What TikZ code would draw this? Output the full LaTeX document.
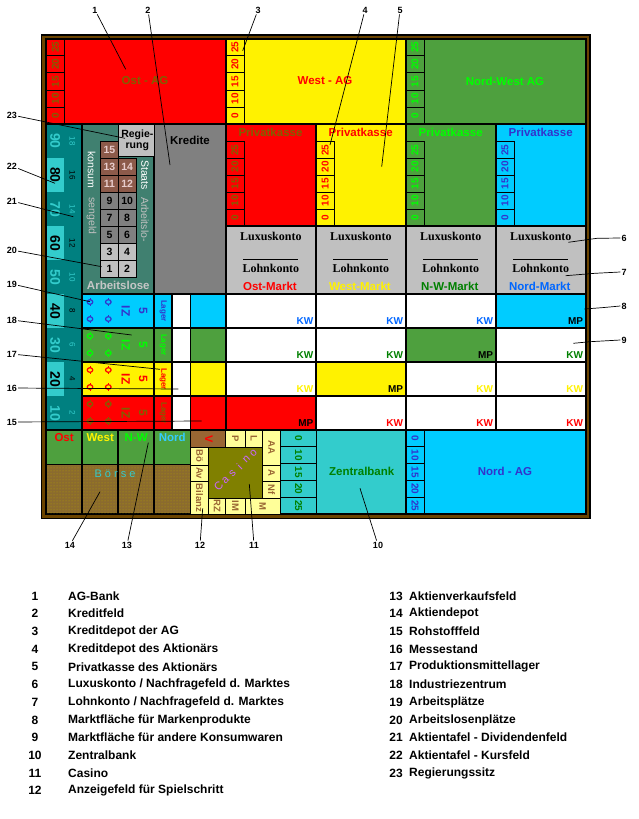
\documentclass[tikz,border=0pt]{standalone}
\usepackage{fontspec}
\setmainfont{Liberation Sans}
\newfontfamily\lserif{Liberation Serif}
\usetikzlibrary{patterns}
\definecolor{brd}{HTML}{6B4400}
\definecolor{grn}{HTML}{4EA03E}
\definecolor{lime}{HTML}{00FF00}
\definecolor{nord}{HTML}{00CCFF}
\definecolor{nordt}{HTML}{3333CC}
\definecolor{tealA}{HTML}{33CCCC}
\definecolor{tealB}{HTML}{008080}
\definecolor{staat}{HTML}{408070}
\definecolor{olv}{HTML}{806000}
\definecolor{dgrn}{HTML}{008000}
\definecolor{kwb}{HTML}{0066FF}
\definecolor{lgray}{HTML}{C0C0C0}
\definecolor{mgray}{HTML}{808080}
\definecolor{brn}{HTML}{8C5A4A}
\definecolor{pinkt}{HTML}{E8CCCC}
\definecolor{vbrown}{HTML}{996633}
\definecolor{lyel}{HTML}{FFFF99}
\definecolor{casino}{HTML}{808000}
\definecolor{cast}{HTML}{CC66FF}
\definecolor{boerse}{HTML}{8B6B2E}
\definecolor{bnord}{HTML}{33CCFF}
\tikzset{
  cellk/.style={draw=black,line width=1.6pt},
  thinl/.style={draw=black,line width=0.9pt},
  hd/.style={font=\bfseries\fontsize{11.5}{12}\selectfont,inner sep=0pt},
  numt/.style={font=\bfseries\fontsize{10}{10}\selectfont,inner sep=0pt},
  kwt/.style={font=\bfseries\fontsize{10}{10}\selectfont,inner sep=0pt},
  lux/.style={font=\lserif\bfseries\fontsize{12}{12}\selectfont,inner sep=0pt},
  anz/.style={font=\bfseries\fontsize{9.5}{10}\selectfont,inner sep=0pt,rotate=-90,text=vbrown},
  casl/.style={font=\fontsize{11}{11}\selectfont,inner sep=0pt,rotate=44,text=cast},
  callout/.style={font=\bfseries\fontsize{9}{9}\selectfont,inner sep=1pt},
  leader/.style={draw=black,line width=0.7pt},
  legn/.style={font=\bfseries\fontsize{12}{12}\selectfont,inner sep=0pt},
  legt/.style={font=\bfseries\fontsize{12}{12}\selectfont,inner sep=0pt,anchor=west},
}
% number column, labels 25..0 top to bottom, reading upwards
\newcommand\numup[6]{%
  \foreach \t [count=\i from 0] in {25,20,15,10,0}{
    \draw[thinl] (#1,{#3+#4*\i}) rectangle (#2,{#3+#4*(\i+1)});
    \node[numt,rotate=90,text=#5] (#6\i) at ({(#1+#2)/2},{#3+#4*(\i+0.5)}) {\t};
  }}
% number column, labels 0..25 top to bottom, reading downwards
\newcommand\numdown[6]{%
  \foreach \t [count=\i from 0] in {0,10,15,20,25}{
    \draw[thinl] (#1,{#3+#4*\i}) rectangle (#2,{#3+#4*(\i+1)});
    \node[numt,rotate=-90,text=#5] (#6\i) at ({(#1+#2)/2},{#3+#4*(\i+0.5)}) {\t};
  }}
\newcommand\mkt[7]{%
  \filldraw[cellk,fill=#5] (#2,#4) rectangle (#3,{#4+34});
  \node[kwt,text=#7,anchor=south east] (#1) at ({#3-2.5},{#4+31}) {#6};}
\newcommand\wsym[3]{%
  \draw[#3,line width=1.2pt] (#1,#2) ellipse (2.8 and 2.3);
  \draw[#3,line width=1pt] (#1,{#2-2.3}) -- (#1,{#2-3.9}) (#1,{#2+2.3}) -- (#1,{#2+3.9});}
\begin{document}
\begin{tikzpicture}[x=1pt,y=-1pt]
\useasboundingbox (0,0) rectangle (639,819);
\fill[white] (0,0) rectangle (639,819);
% frame
\fill[black] (41,34) rectangle (590.7,519.3);
\fill[brd] (42.3,35.7) rectangle (589,517.7);
\fill[black] (45.2,38.1) rectangle (586.6,515);
% ---- top row: AGs
\filldraw[cellk,fill=red] (46,38.9) rectangle (225.8,124);
\filldraw[cellk,fill=yellow] (225.8,38.9) rectangle (405.8,124);
\filldraw[cellk,fill=grn] (405.8,38.9) rectangle (585.8,124);
\numup{46}{64.8}{38.9}{17.02}{olv}{nO}
\numup{225.8}{244.2}{38.9}{17.02}{red}{nW}
\numup{405.8}{424.3}{38.9}{17.02}{lime}{nNW}
\node[hd,text=olv] (ostag) at (145,81) {Ost - AG};
\node[hd,text=red] (westag) at (325,81) {West - AG};
\node[hd,text=lime] (nwag) at (505,81) {Nord-West AG};
% ---- Privatkassen
\filldraw[cellk,fill=red] (225.8,124) rectangle (316,225.8);
\filldraw[cellk,fill=yellow] (316,124) rectangle (405.8,225.8);
\filldraw[cellk,fill=grn] (405.8,124) rectangle (495.8,225.8);
\filldraw[cellk,fill=nord] (495.8,124) rectangle (585.8,225.8);
\numup{225.8}{244.2}{141.7}{16.82}{olv}{pO}
\numup{316}{334.4}{141.7}{16.82}{red}{pW}
\numup{405.8}{424.2}{141.7}{16.82}{lime}{pNW}
\numup{495.8}{514.2}{141.7}{16.82}{nordt}{pN}
\node[hd,text=olv] (pkO) at (270.5,132.5) {Privatkasse};
\node[hd,text=red] (pkW) at (360.7,132.5) {Privatkasse};
\node[hd,text=lime] (pkNW) at (450.7,132.5) {Privatkasse};
\node[hd,text=nordt] (pkN) at (540.7,132.5) {Privatkasse};
% ---- Luxus / Lohn
\foreach \xa/\xb/\m/\c/\nm in {225.8/316/Ost-Markt/red/O, 316/405.8/West-Markt/yellow/W, 405.8/495.8/N-W-Markt/dgrn/NW, 495.8/585.8/Nord-Markt/kwb/N}{
  \filldraw[cellk,fill=lgray] (\xa,225.8) rectangle (\xb,294);
  \node[lux] (lux\nm) at ({(\xa+\xb)/2},236) {Luxuskonto};
  \draw[black,line width=1.2pt] ({(\xa+\xb)/2-27.5},259.3) -- ({(\xa+\xb)/2+27.5},259.3);
  \node[lux] (lohn\nm) at ({(\xa+\xb)/2},268.5) {Lohnkonto};
  \node[hd,text=\c] (mk\nm) at ({(\xa+\xb)/2-1},286) {\m};
}
% ---- Aktientafel
\foreach \b/\s [count=\i from 0] in {90/18,80/16,70/14,60/12,50/10,40/8,30/6,20/4,10/2}{
  \ifodd\i
    \fill[tealA] (46.8,{124+34*\i}) rectangle (64,{158+34*\i});
    \fill[tealB] (64,{124+34*\i}) rectangle (81.7,{158+34*\i});
    \node[font=\bfseries\fontsize{14}{14}\selectfont,inner sep=0,rotate=-90,text=black] (kb\i) at (55.2,{141+34*\i}) {\b};
    \node[font=\fontsize{8}{8}\selectfont,inner sep=0,rotate=-90,text=black] (ks\i) at (72.5,{141+34*\i}) {\s};
  \else
    \fill[tealB] (46.8,{124+34*\i}) rectangle (64,{158+34*\i});
    \fill[tealB] (64,{124+34*\i}) rectangle (81.7,{158+34*\i});
    \node[font=\bfseries\fontsize{14}{14}\selectfont,inner sep=0,rotate=-90,text=tealA] (kb\i) at (55.2,{141+34*\i}) {\b};
    \node[font=\fontsize{8}{8}\selectfont,inner sep=0,rotate=-90,text=tealA] (ks\i) at (72.5,{141+34*\i}) {\s};
  \fi
  \draw[thinl] (46,{158+34*\i}) -- (82.2,{158+34*\i});
}
\draw[cellk] (46,124) rectangle (82.2,430);
% ---- Staat region
\filldraw[cellk,fill=staat] (82.2,124) rectangle (154.2,294);
\filldraw[cellk,fill=mgray] (154.2,124) rectangle (225.8,294);
\node[hd,text=black] (kredite) at (190,140) {Kredite};
\filldraw[thinl,fill=lgray] (118.3,124) rectangle (154.2,156.7);
\node[font=\bfseries\fontsize{10.5}{11}\selectfont,inner sep=0] (regie) at (137.3,135) {Regie-};
\node[font=\bfseries\fontsize{10.5}{11}\selectfont,inner sep=0] (rung) at (137.3,146.7) {rung};
\foreach \n/\cx/\cy/\bg/\fg in {15/0/0/brn/pinkt,13/0/1/brn/pinkt,14/1/1/brn/pinkt,11/0/2/brn/pinkt,12/1/2/brn/pinkt,9/0/3/mgray/black,10/1/3/mgray/black,7/0/4/mgray/black,8/1/4/mgray/black,5/0/5/mgray/black,6/1/5/mgray/black,3/0/6/lgray/black,4/1/6/lgray/black,1/0/7/lgray/black,2/1/7/lgray/black}{
  \filldraw[thinl,fill=\bg] ({100.7+17.65*\cx},{141.7+16.95*\cy}) rectangle ({118.35+17.65*\cx},{158.65+16.95*\cy});
  \node[font=\bfseries\fontsize{10.5}{11}\selectfont,inner sep=0,text=\fg] (g\n) at ({109.5+17.65*\cx},{150.2+16.95*\cy}) {\n};
}
\node[font=\fontsize{10.5}{11}\selectfont,inner sep=0,rotate=-90,text=white] (konsum) at (91.7,170) {konsum};
\node[font=\fontsize{10.5}{11}\selectfont,inner sep=0,rotate=-90,text=lgray] (sengeld) at (91.7,216) {sengeld};
\node[font=\fontsize{10.5}{11}\selectfont,inner sep=0,rotate=-90,text=white] (staats) at (145,175) {Staats};
\node[font=\fontsize{10.5}{11}\selectfont,inner sep=0,rotate=-90,text=lgray] (arblo) at (145,219.5) {Arbeitslo-};
\node[hd,text=lgray!90!white] (arbeitslose) at (118.3,285) {Arbeitslose};
% ---- Industriezentrum rows
\foreach \bg/\fg [count=\i from 0] in {nord/nordt,grn/lime,yellow/red,red/olv}{
  \filldraw[cellk,fill=\bg] (82.2,{294+34*\i}) rectangle (154.2,{328+34*\i});
  \filldraw[cellk,fill=\bg] (154.2,{294+34*\i}) rectangle (172.2,{328+34*\i});
  \filldraw[cellk,fill=white] (172.2,{294+34*\i}) rectangle (190.4,{328+34*\i});
  \filldraw[cellk,fill=\bg] (190.4,{294+34*\i}) rectangle (225.8,{328+34*\i});
  \wsym{90}{302+34*\i}{\fg}
  \wsym{108.3}{302+34*\i}{\fg}
  \wsym{90}{319+34*\i}{\fg}
  \wsym{108.3}{319+34*\i}{\fg}
  \node[font=\bfseries\fontsize{12}{12}\selectfont,inner sep=0,rotate=-90,text=\fg] (iz\i) at (125.7,{311+34*\i}) {IZ};
  \node[font=\bfseries\fontsize{12}{12}\selectfont,inner sep=0,rotate=-90,text=\fg] (fv\i) at (143.3,{311+34*\i}) {5};
  \node[font=\bfseries\fontsize{8}{8}\selectfont,inner sep=0,rotate=-90,text=\fg] (lag\i) at (163.2,{311+34*\i}) {Lager};
}
% ---- market cells
\mkt{m00}{225.8}{316}{294}{white}{KW}{kwb}
\mkt{m01}{316}{405.8}{294}{white}{KW}{kwb}
\mkt{m02}{405.8}{495.8}{294}{white}{KW}{kwb}
\mkt{m03}{495.8}{585.8}{294}{nord}{MP}{black}
\mkt{m10}{225.8}{316}{328}{white}{KW}{dgrn}
\mkt{m11}{316}{405.8}{328}{white}{KW}{dgrn}
\mkt{m12}{405.8}{495.8}{328}{grn}{MP}{black}
\mkt{m13}{495.8}{585.8}{328}{white}{KW}{dgrn}
\mkt{m20}{225.8}{316}{362}{white}{KW}{yellow}
\mkt{m21}{316}{405.8}{362}{yellow}{MP}{black}
\mkt{m22}{405.8}{495.8}{362}{white}{KW}{yellow}
\mkt{m23}{495.8}{585.8}{362}{white}{KW}{yellow}
\mkt{m30}{225.8}{316}{396}{red}{MP}{black}
\mkt{m31}{316}{405.8}{396}{white}{KW}{red}
\mkt{m32}{405.8}{495.8}{396}{white}{KW}{red}
\mkt{m33}{495.8}{585.8}{396}{white}{KW}{red}
% ---- Boerse
\foreach \xa/\xb/\t/\c/\nm in {46/82.2/Ost/red/O,82.2/118.2/West/yellow/W,118.2/154.2/N-W/lime/NW,154.2/190.4/Nord/bnord/N}{
  \filldraw[cellk,fill=grn] (\xa,430) rectangle (\xb,464.5);
  \filldraw[cellk,fill=boerse] (\xa,464.5) rectangle (\xb,514.2);
  \fill[pattern=dots,pattern color=olv!60!yellow] (\xa+1,465.5) rectangle (\xb-1,513.2);
  \node[hd,text=\c] (bt\nm) at ({(\xa+\xb)/2},437.5) {\t};
}
\node[font=\fontsize{11}{11}\selectfont,inner sep=0,text=tealA] (boersetxt) at (115,474) {B ö r s e};
% ---- Anzeigefeld
\filldraw[cellk,fill=vbrown] (190.4,430) rectangle (225.8,447.3);
\node[font=\bfseries\fontsize{11}{11}\selectfont,inner sep=0,rotate=-90,text=red] (aV) at (209,438.7) {V};
\foreach \xa/\ya/\xb/\yb/\t/\nm in {225.8/430/245/447.3/P/aP, 245/430/262.7/447.3/L/aL, 262.7/430/280.5/465/AA/aAA, 262.7/465/280.5/481.7/A/aA, 262.7/481.7/280.5/498.3/Nf/aNf, 190.4/447.3/208.7/465/Bö/aBo, 190.4/465/208.7/481.7/Av/aAv, 190.4/481.7/208.7/514.2/Bilanz/aBil, 208.7/498.3/225.8/514.2/RZ/aRZ, 225.8/498.3/245/514.2/IM/aIM, 245/498.3/280.5/514.2/M/aM}{
  \filldraw[thinl,fill=lyel] (\xa,\ya) rectangle (\xb,\yb);
  \node[anz] (\nm) at ({(\xa+\xb)/2},{(\ya+\yb)/2}) {\t};
}
\filldraw[thinl,fill=casino] (208.7,447.3) rectangle (262.7,498.3);
\foreach \ch [count=\i from 0] in {C,a,s,i,n,o}{
  \node[casl] (cas\i) at ({218.5+7*\i},{486.5-6.7*\i}) {\ch};
}
\draw[cellk] (190.4,430) -- (190.4,514.2);
% ---- Zentralbank and Nord-AG
\filldraw[cellk,fill=tealA] (280.5,430) rectangle (405.8,514.2);
\numdown{280.5}{316.5}{430}{16.84}{dgrn}{zb}
\node[hd,text=dgrn] (zentralbank) at (361.7,471.7) {Zentralbank};
\filldraw[cellk,fill=nord] (405.8,430) rectangle (585.8,514.2);
\numdown{405.8}{424.3}{430}{16.84}{nordt}{nag}
\node[hd,text=nordt] (nordag) at (505,471.7) {Nord - AG};
% ---- callouts
\node[callout] (c1) at (95,10) {1};   \coordinate (e1) at (125.7,69.3);  \draw[leader] (c1) -- (e1);
\node[callout] (c2) at (148,10) {2};  \coordinate (e2) at (170,165);    \draw[leader] (c2) -- (e2);
\node[callout] (c3) at (258,10) {3};  \coordinate (e3) at (242.7,50.7); \draw[leader] (c3) -- (e3);
\node[callout] (c4) at (365,10) {4};  \coordinate (e4) at (330,145);    \draw[leader] (c4) -- (e4);
\node[callout] (c5) at (400,10) {5};  \coordinate (e5) at (381.7,166.7);\draw[leader] (c5) -- (e5);
\node[callout] (c6) at (624,238) {6}; \coordinate (e6) at (568.3,242.3);\draw[leader] (c6.west) -- (597,238.3) -- (e6);
\node[callout] (c7) at (624,272) {7}; \coordinate (e7) at (565.7,275.7);\draw[leader] (c7.west) -- (595,273.3) -- (e7);
\node[callout] (c8) at (624,306) {8}; \coordinate (e8) at (584.3,309);  \draw[leader] (c8.west) -- (601.7,307.7) -- (e8);
\node[callout] (c9) at (624,340) {9}; \coordinate (e9) at (573.3,343.3);\draw[leader] (c9.west) -- (590,341.7) -- (e9);
\node[callout] (c10) at (378,545) {10}; \coordinate (e10) at (360,488.3); \draw[leader] (c10) -- (e10);
\node[callout] (c11) at (254,545) {11}; \coordinate (e11) at (249.3,484); \draw[leader] (c11) -- (e11);
\node[callout] (c12) at (200,545) {12}; \coordinate (e12) at (202.7,508.3); \draw[leader] (c12) -- (e12);
\node[callout] (c13) at (127,545) {13}; \coordinate (e13) at (148.3,442.7); \draw[leader] (c13) -- (e13);
\node[callout] (c14) at (70,545) {14};  \coordinate (e14) at (100,491.7); \draw[leader] (c14) -- (e14);
\node[callout] (c15) at (12,422) {15}; \coordinate (e15) at (201.7,421);   \draw[leader] (c15) -- (e15);
\node[callout] (c16) at (12,388) {16}; \coordinate (e16) at (178.3,389);   \draw[leader] (c16) -- (e16);
\node[callout] (c17) at (12,354) {17}; \coordinate (e17) at (160,369.3);   \draw[leader] (c17) -- (e17);
\node[callout] (c18) at (12,320) {18}; \coordinate (e18) at (131.7,335);   \draw[leader] (c18) -- (e18);
\node[callout] (c19) at (12,284) {19}; \coordinate (e19) at (90,301.7);    \draw[leader] (c19) -- (e19);
\node[callout] (c20) at (12,250) {20}; \coordinate (e20) at (101.7,266.7); \draw[leader] (c20) -- (e20);
\node[callout] (c21) at (12,201) {21}; \coordinate (e21) at (73.3,216.7);  \draw[leader] (c21) -- (e21);
\node[callout] (c22) at (12,166) {22}; \coordinate (e22) at (55,183.3);    \draw[leader] (c22) -- (e22);
\node[callout] (c23) at (12,115) {23}; \coordinate (e23) at (125,138.3);   \draw[leader] (c23) -- (e23);
% ---- legend
\foreach \n/\t [count=\i from 0] in {1/{AG-Bank},2/{Kreditfeld},3/{Kreditdepot der AG},4/{Kreditdepot des Aktionärs},5/{Privatkasse des Aktionärs},6/{Luxuskonto / Nachfragefeld d. Marktes},7/{Lohnkonto / Nachfragefeld d. Marktes},8/{Marktfläche für Markenprodukte},9/{Marktfläche für andere Konsumwaren},10/{Zentralbank},11/{Casino}}{
  \node[legn] (ln\n) at (35,{596+17.7*\i}) {\n};
  \node[legt] (lt\n) at (68,{596+17.7*\i}) {\t};
}
\node[legn] (ln12) at (35,790) {12};
\node[legt] (lt12) at (68,790) {Anzeigefeld für Spielschritt};
\foreach \n/\t [count=\i from 0] in {13/{Aktienverkaufsfeld},14/{Aktiendepot},15/{Rohstofffeld},16/{Messestand},17/{Produktionsmittellager},18/{Industriezentrum},19/{Arbeitsplätze},20/{Arbeitslosenplätze},21/{Aktientafel - Dividendenfeld},22/{Aktientafel - Kursfeld},23/{Regierungssitz}}{
  \node[legn] (ln\n) at (396,{596+17.7*\i}) {\n};
  \node[legt] (lt\n) at (409,{596+17.7*\i}) {\t};
}
\end{tikzpicture}
\end{document}
